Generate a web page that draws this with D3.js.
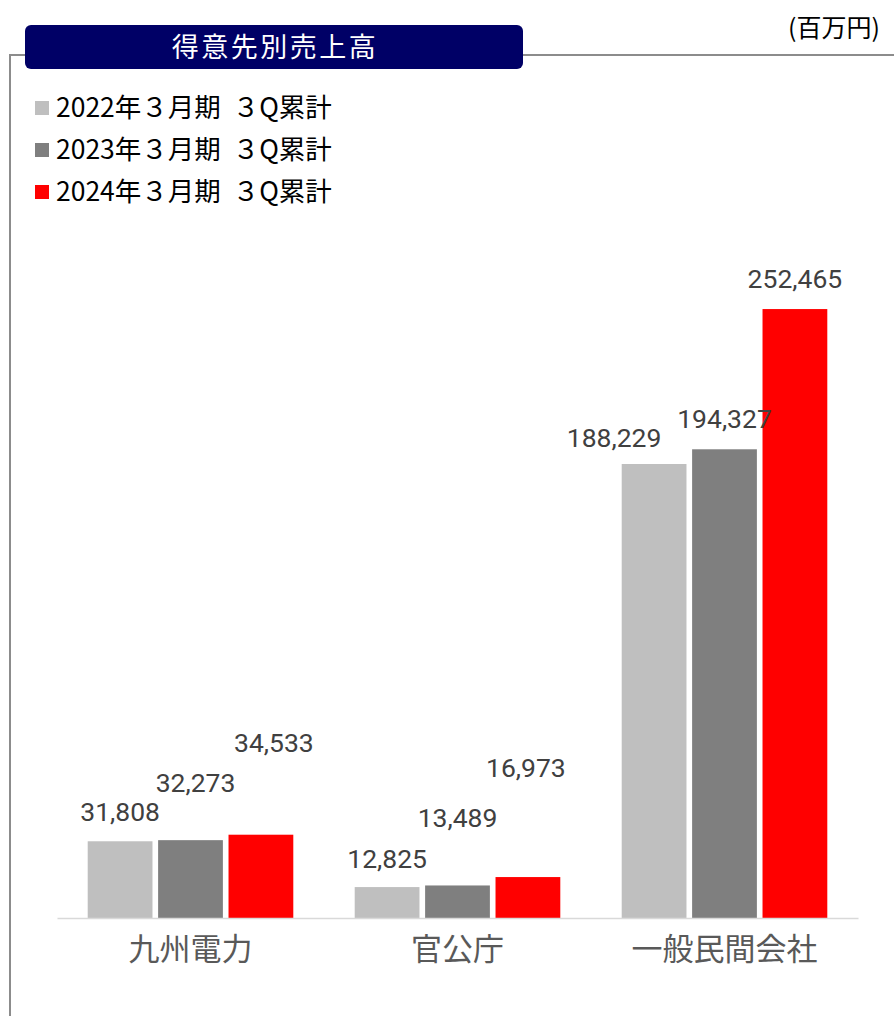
<!DOCTYPE html>
<html><head><meta charset="utf-8">
<script src="https://cdn.jsdelivr.net/npm/d3@7"></script>
<style>
html,body{margin:0;padding:0;background:#fff;}
svg{display:block;}
</style></head>
<body>
<svg id="chart" width="894" height="1016"></svg>
<script>
// ---- data ----
const categories = ["九州電力", "官公庁", "一般民間会社"];
const seriesNames = ["2022年３月期  ３Q累計", "2023年３月期  ３Q累計", "2024年３月期  ３Q累計"];
const values2022 = [31808, 12825, 188229];
const values2023 = [32273, 13489, 194327];
const values2024 = [34533, 16973, 252465];
const seriesColors = ["#bfbfbf", "#7f7f7f", "#ff0000"];
const titleText = "得意先別売上高";
const unitText = "(百万円)";

// label nudges (dx, dy in px) relative to default position above bar: [series][category]
const labelNudge = [
  [[0,0],[0,1],[-40,3]],
  [[5,-28],[0,-38],[0,-1]],
  [[13,-63],[-2,-80],[0,-1]]
];

const seriesValues = [values2022, values2023, values2024];
const svg = d3.select("#chart");
const fontJP = "'Noto Sans CJK JP','Noto Sans',sans-serif";

// frame
svg.append("line").attr("x1",10).attr("x2",894).attr("y1",55).attr("y2",55)
  .attr("stroke","#8c8c8c").attr("stroke-width",2);
svg.append("line").attr("x1",10).attr("x2",10).attr("y1",54).attr("y2",1016)
  .attr("stroke","#8c8c8c").attr("stroke-width",2);

// title box
svg.append("rect").attr("x",25).attr("y",25).attr("width",498).attr("height",44)
  .attr("rx",6).attr("fill","#000066");
svg.append("text").attr("x",275).attr("y",57).attr("text-anchor","middle")
  .attr("font-family",fontJP).attr("font-size",27).attr("fill","#fff")
  .attr("letter-spacing",2.5).text(titleText);

svg.append("text").attr("x",880).attr("y",37).attr("text-anchor","end")
  .attr("font-family",fontJP).attr("font-size",25).attr("fill","#000").text(unitText);

// legend
const legend = svg.append("g");
seriesNames.forEach((name,i)=>{
  const cy = 108 + i*42;
  legend.append("rect").attr("x",35).attr("y",cy-7).attr("width",14).attr("height",14)
    .attr("fill",seriesColors[i]);
  legend.append("text").attr("x",56).attr("y",cy+9)
    .attr("font-family",fontJP).attr("font-size",26.5).attr("fill","#000")
    .attr("xml:space","preserve").style("white-space","pre").text(name);
});

// scales
const baseY = 918;
const x0 = d3.scaleBand().domain(categories).range([57, 858]).paddingInner(0.23).paddingOuter(0.115);
const x1 = d3.scaleBand().domain(d3.range(seriesNames.length)).range([0, x0.bandwidth()]).paddingInner(0.08);
const y = d3.scaleLinear().domain([0, 300000]).range([baseY, baseY - 723.6]);

// bars
seriesValues.forEach((vals, si)=>{
  svg.append("g").selectAll("rect").data(vals).join("rect")
    .attr("x",(d,ci)=>x0(categories[ci]) + x1(si))
    .attr("y",d=>y(d))
    .attr("width",x1.bandwidth())
    .attr("height",d=>y(0)-y(d))
    .attr("fill",seriesColors[si]);
});

// axis baseline
const xAxis = svg.append("g").attr("transform",`translate(0,${baseY})`)
  .call(d3.axisBottom(x0).tickSize(0).tickPadding(20));
xAxis.select(".domain").attr("stroke","#d9d9d9").attr("stroke-width",1.5);
xAxis.selectAll("text").attr("font-family",fontJP).attr("font-size",31).attr("fill","#595959")
  .attr("dy","0.72em");

// data labels
seriesValues.forEach((vals, si)=>{
  svg.append("g").selectAll("text").data(vals).join("text")
    .attr("x",(d,ci)=>x0(categories[ci]) + x1(si) + x1.bandwidth()/2 + labelNudge[si][ci][0])
    .attr("y",(d,ci)=>y(d) - 20 + labelNudge[si][ci][1])
    .attr("text-anchor","middle")
    .attr("font-family","Roboto, 'Noto Sans', sans-serif")
    .attr("font-size",26.5).attr("fill","#404040")
    .text(d=>d3.format(",")(d));
});
</script>
</body></html>
